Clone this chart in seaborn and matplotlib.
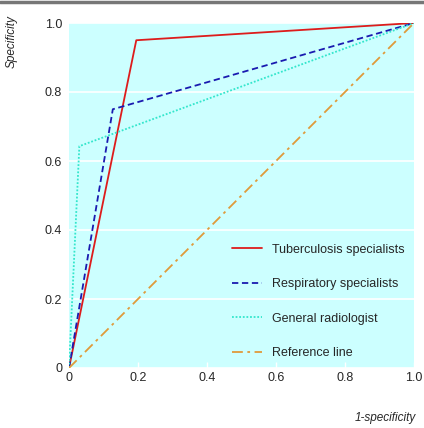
import matplotlib
matplotlib.use("Agg")
import matplotlib.pyplot as plt
import seaborn as sns
import pandas as pd

series_names = ["Tuberculosis specialists", "Respiratory specialists",
                "General radiologist", "Reference line"]
tb_x = [0.0, 0.195, 1.0]
tb_y = [0.0, 0.95, 1.0]
resp_x = [0.0, 0.127, 1.0]
resp_y = [0.0, 0.75, 1.0]
rad_x = [0.0, 0.03, 1.0]
rad_y = [0.0, 0.643, 1.0]
ref_x = [0.0, 1.0]
ref_y = [0.0, 1.0]
tick_vals = [0, 0.2, 0.4, 0.6, 0.8, 1.0]
tick_labels = ["0", "0.2", "0.4", "0.6", "0.8", "1.0"]

sns.set_theme(style="white")
plt.rcParams['font.family'] = ['Liberation Sans', 'DejaVu Sans']

fig = plt.figure(figsize=(4.24, 4.28), dpi=100)
ax = fig.add_axes([69/424, 60/428, 345/424, 345/428])
ax.set_facecolor("#ccffff")

colors = ["#dd1c1c", "#1a1ab0", "#33e6cc", "#e09a3a"]
styles = ["-", (0, (3.5, 2)), (0, (1, 1)), (0, (6, 2.5, 1.5, 2.5))]
xs = [tb_x, resp_x, rad_x, ref_x]
ys = [tb_y, resp_y, rad_y, ref_y]
for name, x, y, c, ls in zip(series_names, xs, ys, colors, styles):
    df = pd.DataFrame({"x": x, "y": y})
    sns.lineplot(data=df, x="x", y="y", ax=ax, color=c, linestyle=ls,
                 linewidth=1.3, sort=False, label=name)

ax.set_xlim(0, 1)
ax.set_ylim(0, 1)
ax.set_xticks(tick_vals)
ax.set_xticklabels(tick_labels)
ax.set_yticks(tick_vals)
ax.set_yticklabels(tick_labels)
ax.yaxis.grid(True, color="white", linewidth=1.2)
ax.xaxis.grid(False)
ax.set_axisbelow(True)
for s in ax.spines.values():
    s.set_visible(False)
ax.tick_params(axis="x", direction="in", length=4, width=1, color="white",
               labelsize=9, pad=3, bottom=True)
ax.tick_params(axis="y", length=0, labelsize=9, pad=5)
ax.set_xlabel("")
ax.set_ylabel("")

leg = ax.legend(loc="lower left", bbox_to_anchor=(0.441, -0.007), frameon=False,
                fontsize=9, handlelength=2.4, handletextpad=0.8,
                labelspacing=1.8)

fig.text(12/424, 1 - 42/428, "Specificity", rotation=90, style="italic",
         fontsize=8.5, ha="center", va="center")
fig.text(416/424, 1 - 418/428, "1-specificity", style="italic",
         fontsize=8.5, ha="right", va="center")

# top grey rule
fig.add_artist(plt.Line2D([0, 1], [1 - 1.5/428, 1 - 1.5/428],
                          transform=fig.transFigure, color="#777777", linewidth=2.5))

fig.savefig("out.png", dpi=100)
